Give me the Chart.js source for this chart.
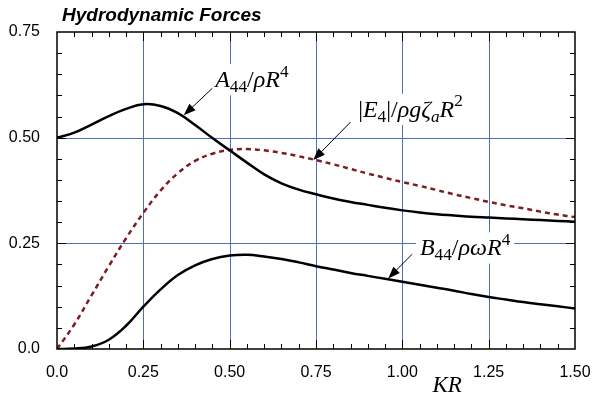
<!DOCTYPE html>
<html>
<head>
<meta charset="utf-8">
<script src="https://cdn.jsdelivr.net/npm/chart.js@4.4.1/dist/chart.umd.min.js"></script>
<style>
  body { margin: 0; background: #fff; }
  #wrap { width: 611px; height: 396px; position: relative; }
</style>
</head>
<body>
<div id="wrap"><canvas id="chart"></canvas></div>
<script>
// wave number KR
const kr = [0.00, 0.05, 0.10, 0.15, 0.20, 0.25, 0.30, 0.35, 0.40, 0.45, 0.50,
            0.55, 0.60, 0.65, 0.70, 0.75, 0.80, 0.85, 0.90, 0.95, 1.00,
            1.05, 1.10, 1.15, 1.20, 1.25, 1.30, 1.35, 1.40, 1.45, 1.50];
// A44 / rho R^4  (added mass, roll)
const a44 = [0.500, 0.512, 0.531, 0.551, 0.568, 0.579, 0.575, 0.558, 0.530, 0.499, 0.470,
             0.441, 0.413, 0.392, 0.377, 0.366, 0.356, 0.348, 0.341, 0.334, 0.328,
             0.323, 0.319, 0.316, 0.313, 0.311, 0.309, 0.307, 0.305, 0.303, 0.301];
// |E4| / rho g zeta_a R^2  (exciting moment)
const e4 = [0.000, 0.058, 0.127, 0.196, 0.262, 0.322, 0.375, 0.416, 0.445, 0.462, 0.471,
            0.473, 0.470, 0.464, 0.456, 0.447, 0.437, 0.426, 0.415, 0.405, 0.395,
            0.386, 0.376, 0.366, 0.357, 0.348, 0.340, 0.333, 0.325, 0.318, 0.312];
// B44 / rho omega R^4  (damping)
const b44 = [0.000, 0.001, 0.006, 0.022, 0.055, 0.100, 0.141, 0.175, 0.198, 0.213, 0.221,
             0.223, 0.219, 0.213, 0.205, 0.196, 0.188, 0.180, 0.173, 0.166, 0.159,
             0.152, 0.145, 0.138, 0.130, 0.123, 0.117, 0.111, 0.106, 0.101, 0.096];

const xTickLabels = ['0.0', '0.25', '0.50', '0.75', '1.00', '1.25', '1.50'];
const yTickLabels = ['0.0', '0.25', '0.50', '0.75'];

const chartTitle = 'Hydrodynamic Forces';
const xTitle = 'KR';

// curve labels: text pieces, label anchor and arrow (data units)
const notes = [
  { segs: [{t:'A',it:1},{t:'44',sub:1},{t:'/'},{t:'ρR',it:1},{t:'4',sup:1}],
    at: [0.458, 0.620], from: [0.450, 0.617], to: [0.367, 0.553] },
  { segs: [{t:'|'},{t:'E',it:1},{t:'4',sub:1},{t:'|/'},{t:'ρgζ',it:1},{t:'a',it:1,sub:1},{t:'R',it:1},{t:'2',sup:1}],
    at: [0.872, 0.550], from: [0.850, 0.537], to: [0.742, 0.447] },
  { segs: [{t:'B',it:1},{t:'44',sub:1},{t:'/'},{t:'ρωR',it:1},{t:'4',sup:1}],
    at: [1.051, 0.222], from: [1.028, 0.224], to: [0.959, 0.167] }
];

const pts = ys => kr.map((x, i) => ({ x: x, y: ys[i] }));

function drawMath(ctx, x0, y0, segs, size) {
  const items = segs.map(s => {
    const sz = (s.sub || s.sup) ? size * 0.72 : size;
    const font = (s.it ? 'italic ' : '') + sz + 'px "Liberation Serif"';
    ctx.font = font;
    const w = ctx.measureText(s.t).width;
    const dy = s.sub ? size * 0.22 : s.sup ? -size * 0.42 : 0;
    return { t: s.t, font, w, dy };
  });
  const total = items.reduce((a, b) => a + b.w, 0);
  ctx.fillStyle = '#fff';
  ctx.fillRect(x0 - 4, y0 - size * 0.95, total + 8, size * 1.3);
  ctx.fillStyle = '#000';
  ctx.textAlign = 'left';
  ctx.textBaseline = 'alphabetic';
  let x = x0;
  items.forEach(it => {
    ctx.font = it.font;
    ctx.fillText(it.t, x, y0 + it.dy);
    x += it.w;
  });
}

function arrow(ctx, x1, y1, x2, y2) {
  const ang = Math.atan2(y2 - y1, x2 - x1);
  const len = 12, hw = 4.5;
  ctx.strokeStyle = '#000';
  ctx.lineWidth = 1;
  ctx.beginPath();
  ctx.moveTo(x1, y1);
  ctx.lineTo(x2 - Math.cos(ang) * len * 0.8, y2 - Math.sin(ang) * len * 0.8);
  ctx.stroke();
  ctx.fillStyle = '#000';
  ctx.beginPath();
  ctx.moveTo(x2, y2);
  ctx.lineTo(x2 - Math.cos(ang) * len - Math.sin(ang) * hw, y2 - Math.sin(ang) * len + Math.cos(ang) * hw);
  ctx.lineTo(x2 - Math.cos(ang) * len + Math.sin(ang) * hw, y2 - Math.sin(ang) * len - Math.cos(ang) * hw);
  ctx.closePath();
  ctx.fill();
}

const deco = {
  id: 'deco',
  beforeDatasetsDraw(chart) {
    // blue grid, drawn at the scale's own major ticks
    const { ctx, chartArea: a, scales: { x, y } } = chart;
    ctx.save();
    ctx.strokeStyle = '#4a70c0';
    ctx.lineWidth = 1;
    ctx.beginPath();
    x.ticks.forEach(t => {
      if (t.value <= x.min || t.value >= x.max) return;
      const px = Math.round(x.getPixelForValue(t.value)) + 0.5;
      ctx.moveTo(px, a.top); ctx.lineTo(px, a.bottom);
    });
    y.ticks.forEach(t => {
      if (t.value <= y.min || t.value >= y.max) return;
      const py = Math.round(y.getPixelForValue(t.value)) + 0.5;
      ctx.moveTo(a.left, py); ctx.lineTo(a.right, py);
    });
    ctx.stroke();
    ctx.restore();
  },
  afterDatasetsDraw(chart) {
    const { ctx, chartArea: a, scales: { x, y } } = chart;
    ctx.save();
    // inward tick marks
    ctx.strokeStyle = '#000';
    ctx.lineWidth = 1;
    ctx.beginPath();
    for (let i = 1; i < 30; i++) {
      const px = Math.round(x.getPixelForValue(i * 0.05)) + 0.5;
      const len = i % 5 === 0 ? 9 : 5;
      ctx.moveTo(px, a.bottom); ctx.lineTo(px, a.bottom - len);
      ctx.moveTo(px, a.top); ctx.lineTo(px, a.top + len);
    }
    for (let i = 1; i < 15; i++) {
      const py = Math.round(y.getPixelForValue(i * 0.05)) + 0.5;
      const len = i % 5 === 0 ? 9 : 5;
      ctx.moveTo(a.left, py); ctx.lineTo(a.left + len, py);
      ctx.moveTo(a.right, py); ctx.lineTo(a.right - len, py);
    }
    ctx.stroke();
    // frame
    ctx.lineWidth = 1.5;
    ctx.strokeRect(a.left, a.top, a.right - a.left, a.bottom - a.top);

    // curve labels + arrows
    notes.forEach(n => {
      drawMath(ctx, x.getPixelForValue(n.at[0]), y.getPixelForValue(n.at[1]), n.segs, 24);
      arrow(ctx, x.getPixelForValue(n.from[0]), y.getPixelForValue(n.from[1]),
                 x.getPixelForValue(n.to[0]), y.getPixelForValue(n.to[1]));
    });

    // title
    ctx.fillStyle = '#000';
    ctx.font = 'italic bold 19px "Liberation Sans"';
    ctx.textAlign = 'left';
    ctx.textBaseline = 'alphabetic';
    ctx.fillText(chartTitle, a.left + 5, 21);

    // x axis title
    ctx.font = 'italic 23px "Liberation Serif"';
    ctx.textAlign = 'center';
    ctx.fillText(xTitle, x.getPixelForValue(1.13), 392);
    ctx.restore();
  }
};

new Chart(document.getElementById('chart'), {
  type: 'line',
  data: {
    datasets: [
      { label: 'A44', data: pts(a44), borderColor: '#000', borderWidth: 2.5 },
      { label: 'E4', data: pts(e4), borderColor: '#7b1e22', borderWidth: 2.5, borderDash: [5, 4] },
      { label: 'B44', data: pts(b44), borderColor: '#000', borderWidth: 2.5 }
    ]
  },
  options: {
    responsive: true,
    maintainAspectRatio: false,
    animation: false,
    layout: { padding: { top: 32, right: 36, left: 0, bottom: 0 } },
    elements: {
      point: { radius: 0 },
      line: { tension: 0.4, fill: false }
    },
    plugins: {
      legend: { display: false },
      title: { display: false },
      tooltip: { enabled: false }
    },
    scales: {
      x: {
        type: 'linear',
        min: 0, max: 1.5,
        afterFit: s => { s.height = 47; },
        border: { display: false },
        grid: { display: false },
        ticks: {
          stepSize: 0.25,
          padding: 6,
          color: '#000',
          font: { family: '"Liberation Sans"', size: 16 },
          callback: (v, i) => xTickLabels[i]
        }
      },
      y: {
        min: 0, max: 0.75,
        afterFit: s => { s.width = 57; },
        border: { display: false },
        grid: { display: false },
        ticks: {
          stepSize: 0.25,
          padding: 9,
          color: '#000',
          font: { family: '"Liberation Sans"', size: 16 },
          callback: (v, i) => yTickLabels[i]
        }
      }
    }
  },
  plugins: [deco]
});
</script>
</body>
</html>
